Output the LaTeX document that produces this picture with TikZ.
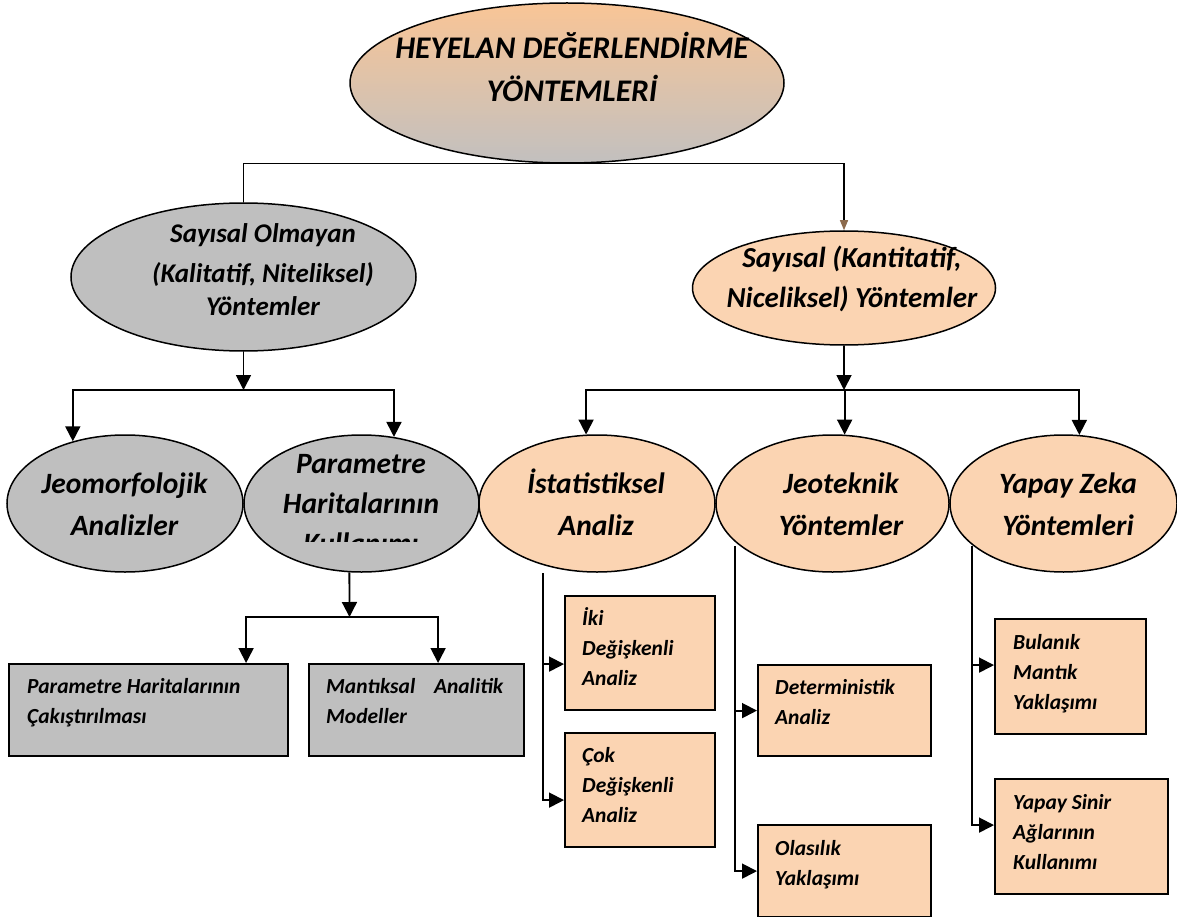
\documentclass[tikz,border=0pt]{standalone}
\usepackage{fontspec}
\setmainfont{Carlito}
\usetikzlibrary{shapes.geometric,arrows.meta}
\definecolor{peach}{HTML}{FBD4B2}
\definecolor{grayf}{HTML}{BFBFBF}
\definecolor{topA}{HTML}{F9C596}
\definecolor{topB}{HTML}{C2C0BF}
\definecolor{brownarr}{HTML}{8C6A4C}
\begin{document}
\begin{tikzpicture}[x=1pt,y=-1pt,
  ell/.style={ellipse,draw=black,line width=1.5pt,inner sep=0pt},
  gell/.style={ell,fill=grayf},
  pell/.style={ell,fill=peach},
  bx/.style={rectangle,draw=black,line width=2.2pt,inner sep=0pt,anchor=north west},
  gbx/.style={bx,fill=grayf},
  pbx/.style={bx,fill=peach},
  etxt/.style={anchor=base,text width=400pt,align=flush center,inner sep=0pt},
  btxt/.style={anchor=base west,text width=260pt,align=flush left,inner sep=0pt,font={\bfseries\itshape\fontsize{21.5}{30}\selectfont}},
  ln/.style={line width=1.8pt,draw=black},
  arr/.style={ln,-{Triangle[width=15pt,length=15pt]}}]
\useasboundingbox (0,0) rectangle (1177,917);

% top
\node[ell, minimum width=434pt, minimum height=160pt, top color=topA, bottom color=topB] (T) at (567,83) {};
\node[etxt, font={\bfseries\itshape\fontsize{31.5}{43}\selectfont}] (Tt) at (572,59) {HEYELAN DEĞERLENDİRME\\YÖNTEMLERİ};

% level 2
\node[gell, minimum width=345pt, minimum height=148pt] (L) at (243.5,277) {};
\node[etxt, font={\bfseries\itshape\fontsize{27}{39.5}\selectfont}] (Lt) at (263,243) {Sayısal Olmayan\\(Kalitatif, Niteliksel)\\[-6pt]Yöntemler};
\node[pell, minimum width=303pt, minimum height=114pt] (R) at (844,288) {};
\node[etxt, font={\bfseries\itshape\fontsize{29}{40}\selectfont}] (Rt) at (852,267) {Sayısal (Kantitatif,\\Niceliksel) Yöntemler};

% level 3
\node[gell, minimum width=236pt, minimum height=137pt] (J) at (125,503.5) {};
\node[gell, minimum width=235pt, minimum height=137pt] (P) at (361.5,503.5) {};
\node[pell, minimum width=236pt, minimum height=137pt] (I) at (597,503.5) {};
\node[pell, minimum width=233pt, minimum height=137pt] (G) at (832.5,503.5) {};
\node[pell, minimum width=227pt, minimum height=137pt] (Y) at (1063.5,503.5) {};

\node[etxt, font={\bfseries\itshape\fontsize{29.5}{42}\selectfont}] (Jt) at (124.5,493) {Jeomorfolojik\\Analizler};
\node[etxt, font={\bfseries\itshape\fontsize{29.5}{40}\selectfont}] (Pt) at (361,473) {Parametre\\Haritalarının};
\begin{scope}
\clip (250,528) rectangle (470,541.5);
\node[etxt, font={\bfseries\itshape\fontsize{29.5}{40}\selectfont}] (Pk) at (361,553) {Kullanımı};
\end{scope}
\node[etxt, font={\bfseries\itshape\fontsize{29.5}{42}\selectfont}] (It) at (596,493) {İstatistiksel\\Analiz};
\node[etxt, font={\bfseries\itshape\fontsize{29.5}{42}\selectfont}] (Gt) at (841,493) {Jeoteknik\\Yöntemler};
\node[etxt, font={\bfseries\itshape\fontsize{29.5}{42}\selectfont}] (Yt) at (1068,493) {Yapay Zeka\\Yöntemleri};

% boxes
\node[gbx, minimum width=279pt, minimum height=92pt] (bA) at (8,663) {};
\node[gbx, minimum width=215pt, minimum height=92pt] (bB) at (308,663) {};
\node[pbx, minimum width=150pt, minimum height=114pt] (b1) at (564,595) {};
\node[pbx, minimum width=150pt, minimum height=114pt] (b2) at (564,732) {};
\node[pbx, minimum width=173pt, minimum height=91pt] (b3) at (757,664) {};
\node[pbx, minimum width=173pt, minimum height=92pt] (b4) at (757,824) {};
\node[pbx, minimum width=151pt, minimum height=115pt] (b5) at (994,618) {};
\node[pbx, minimum width=173pt, minimum height=115pt] (b6) at (994,778) {};

\node[btxt] (tA) at (27,693) {Parametre Haritalarının\\Çakıştırılması};
\node[btxt, text width=177pt] (tB) at (326,693) {Mantıksal\hfill Analitik\\Modeller};
\node[btxt] (t1) at (582,625) {İki\\Değişkenli\\Analiz};
\node[btxt] (t2) at (582,762) {Çok\\Değişkenli\\Analiz};
\node[btxt] (t3) at (775,694) {Deterministik\\Analiz};
\node[btxt] (t4) at (775,855) {Olasılık\\Yaklaşımı};
\node[btxt] (t5) at (1013,649) {Bulanık\\Mantık\\Yaklaşımı};
\node[btxt] (t6) at (1013,809) {Yapay Sinir\\Ağlarının\\Kullanımı};

% connectors
\draw[line width=1.3pt,-{Triangle[width=8pt,length=10pt,color=brownarr]}] (L.north) |- (T.south) -| (R.north);

\coordinate (jl) at (243.5,390);
\draw[arr] (L.south) -- (jl);
\draw[arr] (jl) -| (J.130.9);
\draw[arr] (jl) -| (P.64.5);

\coordinate (jr) at (844,390);
\draw[arr] (R.south) -- (jr);
\draw[arr] (jr) -| (I.99.2);
\draw[arr] (jr) -| (G.80.4);
\draw[arr] (jr) -| (Y.77.1);

\coordinate (pj) at (349.5,617);
\draw[arr] (P.-100) -- (pj);
\draw[arr] (pj) -| ([xshift=97.5pt]bA.north);
\draw[arr] (pj) -| ([xshift=21.5pt]bB.north);

\coordinate (is) at (543,573);
\draw[arr] (is) |- ([yshift=-11pt]b1.west);
\draw[arr] (is) |- ([yshift=-10pt]b2.west);
\coordinate (gs) at (735,546);
\draw[arr] (gs) |- (b3.west);
\draw[arr] (gs) |- (b4.west);
\coordinate (ys) at (972,546);
\draw[arr] (ys) |- ([yshift=11.5pt]b5.west);
\draw[arr] (ys) |- ([yshift=11.5pt]b6.west);
\end{tikzpicture}
\end{document}
